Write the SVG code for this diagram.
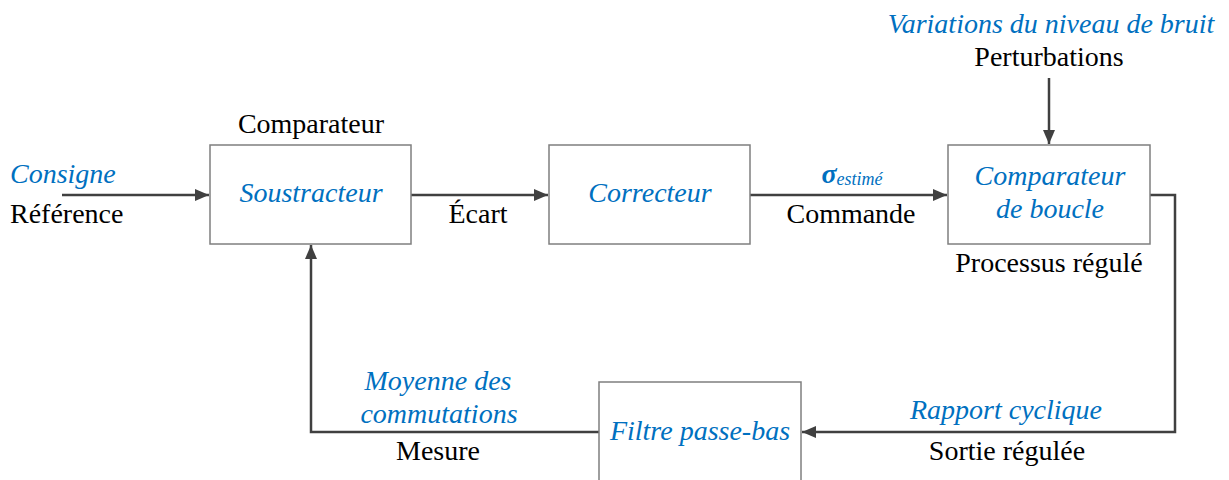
<svg xmlns="http://www.w3.org/2000/svg" width="1229" height="480" viewBox="0 0 1229 480">
<style>
.box{fill:#fff;stroke:#7f7f7f;stroke-width:1.5}
.ln{fill:none;stroke:#404040;stroke-width:2.5}
.txt-blue{fill:#0070c0;font-style:italic}
.txt-black{fill:#000000}
.mid{text-anchor:middle}
</style>
<defs>
<marker id="ah" viewBox="0 0 14 12" refX="14" refY="6" markerWidth="14" markerHeight="12" markerUnits="userSpaceOnUse" orient="auto">
<path d="M0,0 L14,6 L0,12 Z" fill="#404040"/>
</marker>
</defs>
<g id="connectors">
<line class="ln" x1="62" y1="195" x2="209" y2="195" marker-end="url(#ah)"/>
<line class="ln" x1="411" y1="195" x2="548" y2="195" marker-end="url(#ah)"/>
<line class="ln" x1="750" y1="195" x2="947" y2="195" marker-end="url(#ah)"/>
<line class="ln" x1="1049" y1="78" x2="1049" y2="144" marker-end="url(#ah)"/>
<polyline class="ln" points="1150,195 1175,195 1175,432 802,432" marker-end="url(#ah)"/>
<polyline class="ln" points="599,432 311,432 311,245" marker-end="url(#ah)"/>
</g>
<g id="labels-input">
<text class="txt-blue" font-family="Liberation Serif" font-size="28" x="10" y="183"><tspan font-family="Liberation Serif">Consigne</tspan></text>
<text class="txt-black" font-family="Liberation Serif" font-size="28" x="10" y="223"><tspan font-family="Liberation Serif">Référence</tspan></text>
</g>
<g id="soustracteur">
<rect class="box" x="210" y="145" width="201" height="99"/>
<text class="txt-black mid" font-family="Liberation Serif" font-size="28" x="311" y="133"><tspan font-family="Liberation Serif">Comparateur</tspan></text>
<text class="txt-blue mid" font-family="Liberation Serif" font-size="28" x="311" y="202"><tspan font-family="Liberation Serif">Soustracteur</tspan></text>
</g>
<g id="ecart-label">
<text class="txt-black mid" font-family="Liberation Serif" font-size="28" x="478" y="223"><tspan font-family="Liberation Serif">Écart</tspan></text>
</g>
<g id="correcteur">
<rect class="box" x="549" y="145" width="201" height="99"/>
<text class="txt-blue mid" font-family="Liberation Serif" font-size="28" x="650" y="202"><tspan font-family="Liberation Serif">Correcteur</tspan></text>
</g>
<g id="commande-label">
<text class="txt-blue mid" font-family="Liberation Serif" font-size="28" x="852" y="183"><tspan font-family="Liberation Serif" font-weight="bold">σ</tspan><tspan font-family="Liberation Serif" font-size="18" dy="2">estimé</tspan></text>
<text class="txt-black mid" font-family="Liberation Serif" font-size="28" x="851" y="223"><tspan font-family="Liberation Serif">Commande</tspan></text>
</g>
<g id="comparateur-boucle">
<rect class="box" x="948" y="145" width="202" height="99"/>
<text class="txt-blue mid" font-family="Liberation Serif" font-size="28" x="1050" y="185"><tspan font-family="Liberation Serif">Comparateur</tspan></text>
<text class="txt-blue mid" font-family="Liberation Serif" font-size="28" x="1050" y="218"><tspan font-family="Liberation Serif">de boucle</tspan></text>
<text class="txt-black mid" font-family="Liberation Serif" font-size="28" x="1049" y="272"><tspan font-family="Liberation Serif">Processus régulé</tspan></text>
</g>
<g id="perturbations">
<text class="txt-blue mid" font-family="Liberation Serif" font-size="28" x="1051" y="33"><tspan font-family="Liberation Serif">Variations du niveau de bruit</tspan></text>
<text class="txt-black mid" font-family="Liberation Serif" font-size="28" x="1049" y="66"><tspan font-family="Liberation Serif">Perturbations</tspan></text>
</g>
<g id="filtre">
<rect class="box" x="599" y="382" width="202" height="110"/>
<text class="txt-blue mid" font-family="Liberation Serif" font-size="28" x="700" y="440"><tspan font-family="Liberation Serif">Filtre passe-bas</tspan></text>
</g>
<g id="sortie-label">
<text class="txt-blue mid" font-family="Liberation Serif" font-size="28" x="1006" y="419"><tspan font-family="Liberation Serif">Rapport cyclique</tspan></text>
<text class="txt-black mid" font-family="Liberation Serif" font-size="28" x="1007" y="460"><tspan font-family="Liberation Serif">Sortie régulée</tspan></text>
</g>
<g id="mesure-label">
<text class="txt-blue mid" font-family="Liberation Serif" font-size="28" x="438" y="390"><tspan font-family="Liberation Serif">Moyenne des</tspan></text>
<text class="txt-blue mid" font-family="Liberation Serif" font-size="28" x="439" y="423"><tspan font-family="Liberation Serif">commutations</tspan></text>
<text class="txt-black mid" font-family="Liberation Serif" font-size="28" x="438" y="460"><tspan font-family="Liberation Serif">Mesure</tspan></text>
</g>
</svg>
